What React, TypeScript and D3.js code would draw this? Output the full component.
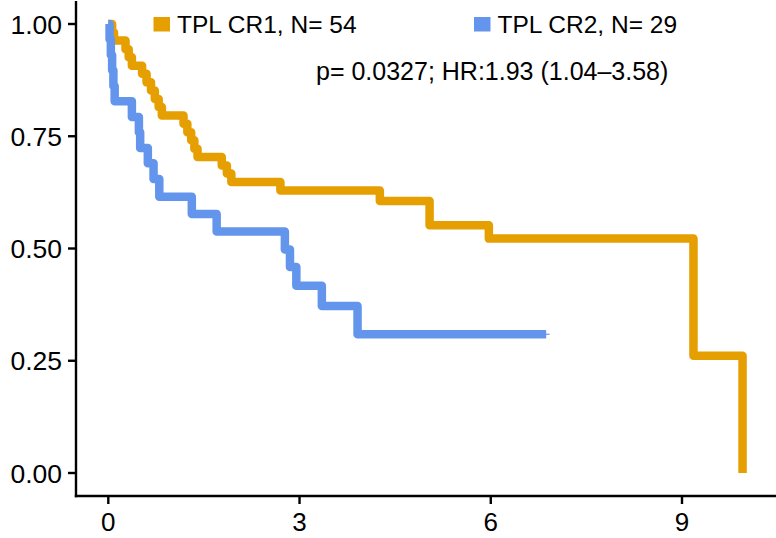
import React from "react";
import * as d3 from "d3";

// Kaplan–Meier estimates: time (years) and survival probability for each group
const cr1Times = [0, 0.06, 0.09, 0.27, 0.32, 0.37, 0.53, 0.6, 0.67, 0.73, 0.79, 0.84, 1.18, 1.24, 1.3, 1.35, 1.4, 1.78, 1.86, 1.93, 2.7, 4.26, 5.04, 5.97, 9.18, 9.95];
const cr1Surv = [1, 0.981, 0.963, 0.944, 0.926, 0.907, 0.889, 0.87, 0.852, 0.833, 0.815, 0.796, 0.778, 0.759, 0.741, 0.722, 0.704, 0.685, 0.667, 0.648, 0.629, 0.606, 0.552, 0.522, 0.261, 0];

const cr2Times = [0, 0.02, 0.04, 0.06, 0.08, 0.1, 0.37, 0.48, 0.5, 0.62, 0.71, 0.8, 1.31, 1.7, 2.77, 2.85, 2.95, 3.35, 3.91, 6.86];
const cr2Surv = [1, 0.966, 0.931, 0.897, 0.862, 0.828, 0.793, 0.759, 0.724, 0.69, 0.655, 0.615, 0.577, 0.538, 0.498, 0.459, 0.417, 0.372, 0.309, 0.309];

// last censored observation in the CR2 group
const cr2CensorTimes = [6.86];
const cr2CensorSurv = [0.309];

const groupLabels = ["TPL CR1, N= 54", "TPL CR2, N= 29"];
const groupColors = ["#E69F00", "#6495ED"];
const statsLabel = "p= 0.0327; HR:1.93 (1.04\u20133.58)";

const xTicks = [0, 3, 6, 9];
const yTicks = [0, 0.25, 0.5, 0.75, 1];

const W = 776;
const H = 538;
const FONT = "'Liberation Sans', Arial, Helvetica, sans-serif";

export default function App() {
  const x = d3.scaleLinear().domain([0, 9]).range([108.3, 682]);
  const y = d3.scaleLinear().domain([0, 1]).range([473, 24]);

  const axisLeft = 76;
  const axisBottom = 496;

  const line = d3
    .line<[number, number]>()
    .x((d) => x(d[0]))
    .y((d) => y(d[1]))
    .curve(d3.curveStepAfter);

  const cr1 = cr1Times.map((t, i) => [t, cr1Surv[i]] as [number, number]);
  const cr2 = cr2Times.map((t, i) => [t, cr2Surv[i]] as [number, number]);

  return (
    <svg
      width={W}
      height={H}
      style={{ position: "absolute", left: 0, top: 0, background: "#fff" }}
      fontFamily={FONT}
    >
      {/* survival curves */}
      <path
        d={line(cr1) || ""}
        fill="none"
        stroke={groupColors[0]}
        strokeWidth={8.5}
        strokeLinejoin="round"
      />
      <path
        d={line(cr2) || ""}
        fill="none"
        stroke={groupColors[1]}
        strokeWidth={8.5}
        strokeLinejoin="round"
      />
      {cr2CensorTimes.map((t, i) => (
        <g key={i} stroke={groupColors[1]} strokeWidth={1.2}>
          <line x1={x(t) - 4} x2={x(t) + 4} y1={y(cr2CensorSurv[i])} y2={y(cr2CensorSurv[i])} />
          <line x1={x(t)} x2={x(t)} y1={y(cr2CensorSurv[i]) - 4} y2={y(cr2CensorSurv[i]) + 4} />
        </g>
      ))}

      {/* axes */}
      <line x1={axisLeft} x2={axisLeft} y1={1} y2={axisBottom + 1.2} stroke="#000" strokeWidth={2.4} />
      <line x1={axisLeft - 1.2} x2={W} y1={axisBottom} y2={axisBottom} stroke="#000" strokeWidth={2.4} />
      {yTicks.map((v) => (
        <g key={v}>
          <line x1={axisLeft - 8} x2={axisLeft} y1={y(v)} y2={y(v)} stroke="#000" strokeWidth={2.4} />
          <text x={62} y={y(v)} dy="0.36em" textAnchor="end" fontSize={26.5} fill="#000">
            {v.toFixed(2)}
          </text>
        </g>
      ))}
      {xTicks.map((v) => (
        <g key={v}>
          <line x1={x(v)} x2={x(v)} y1={axisBottom} y2={axisBottom + 8} stroke="#000" strokeWidth={2.4} />
          <text x={x(v)} y={531} textAnchor="middle" fontSize={26} fill="#000">
            {v}
          </text>
        </g>
      ))}

      {/* legend */}
      <rect x={153.5} y={17} width={16.5} height={14.5} fill={groupColors[0]} />
      <text x={177} y={33} fontSize={24.5} fill="#000">
        {groupLabels[0]}
      </text>
      <rect x={474} y={17} width={16.5} height={14.5} fill={groupColors[1]} />
      <text x={497.5} y={33} fontSize={24.5} fill="#000">
        {groupLabels[1]}
      </text>

      <text x={316} y={80} fontSize={25} fill="#000">
        {statsLabel}
      </text>
    </svg>
  );
}
